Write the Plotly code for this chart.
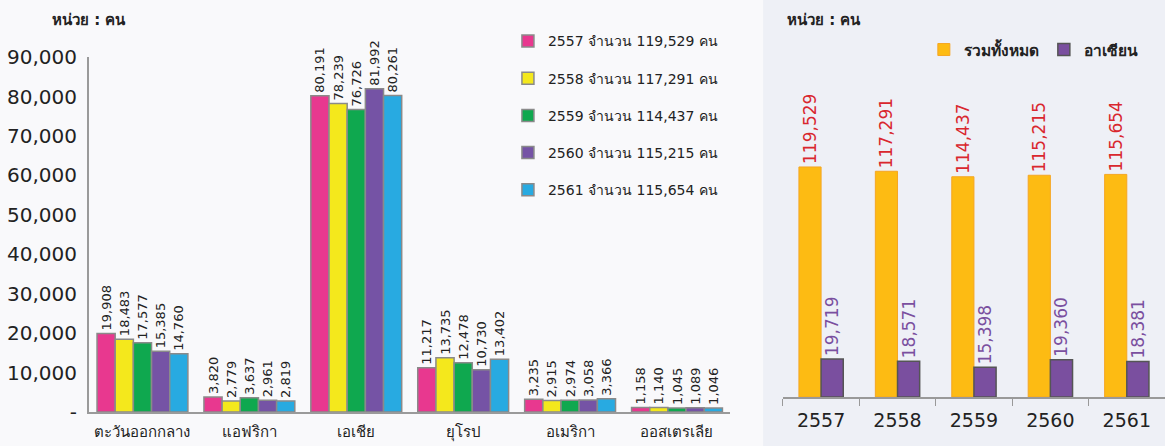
import plotly.graph_objects as go

# left panel: visitors by region per year
regions = ["ตะวันออกกลาง", "แอฟริกา", "เอเชีย", "ยุโรป", "อเมริกา", "ออสเตรเลีย"]
years = ["2557", "2558", "2559", "2560", "2561"]
totals = [119529, 117291, 114437, 115215, 115654]
v2557 = [19908, 3820, 80191, 11217, 3235, 1158]
v2558 = [18483, 2779, 78239, 13735, 2915, 1140]
v2559 = [17577, 3637, 76726, 12478, 2974, 1045]
v2560 = [15385, 2961, 81992, 10730, 3058, 1089]
v2561 = [14760, 2819, 80261, 13402, 3366, 1046]
region_values = [v2557, v2558, v2559, v2560, v2561]
year_colors = ["#e8388f", "#f4e81c", "#0fa84f", "#7553a5", "#28aae1"]

# right panel: total vs ASEAN
asean = [19719, 18571, 15398, 19360, 18381]

left_ticks = [0, 10000, 20000, 30000, 40000, 50000, 60000, 70000, 80000, 90000]
left_ticktext = ["-"] + [f"{v:,}" for v in left_ticks[1:]]

FONT = "DejaVu Sans, Tahoma, Verdana, sans-serif"

fig = go.Figure()

for i, yr in enumerate(years):
    fig.add_trace(go.Bar(
        x=regions, y=region_values[i],
        name=f"{yr} จำนวน {totals[i]:,} คน",
        legendgroup=yr,
        marker=dict(color=year_colors[i], line=dict(color="#8a8a8a", width=1.5)),
        text=[f"{v:,}" for v in region_values[i]],
        textposition="outside", textangle=-90, constraintext="none",
        textfont=dict(size=13, color="#222222", family=FONT),
        cliponaxis=False,
        xaxis="x", yaxis="y",
    ))

fig.add_trace(go.Bar(
    x=years, y=totals, name="<b>รวมทั้งหมด</b>",
    width=0.29, offset=-0.29,
    marker=dict(color="#fdbb13", line=dict(color="#f5a623", width=1)),
    text=[f"{v:,}" for v in totals], textposition="outside", textangle=-90,
    constraintext="none",
    textfont=dict(size=17, color="#d9272e", family=FONT),
    cliponaxis=False, xaxis="x2", yaxis="y2", legend="legend2",
))
fig.add_trace(go.Bar(
    x=years, y=asean, name="<b>อาเซียน</b>",
    width=0.29, offset=0,
    marker=dict(color="#7a4f9f", line=dict(color="#555555", width=1.5)),
    text=[f"{v:,}" for v in asean], textposition="outside", textangle=-90,
    constraintext="none",
    textfont=dict(size=17, color="#7a4f9f", family=FONT),
    cliponaxis=False, xaxis="x2", yaxis="y2", legend="legend2",
))

fig.update_layout(
    width=1165, height=446,
    margin=dict(l=0, r=0, t=0, b=0),
    paper_bgcolor="#f9f9fb", plot_bgcolor="rgba(0,0,0,0)",
    font=dict(family=FONT, color="#222222"),
    barmode="group",
    bargap=0.15, bargroupgap=0,
    showlegend=True,
    xaxis=dict(domain=[0.0764, 0.627], showline=True, linecolor="#9a9a9a", linewidth=2,
               ticks="", tickfont=dict(size=15, color="#222222"), automargin=False,
               ticklabelstandoff=5, showgrid=False),
    yaxis=dict(domain=[0.0762, 0.872], range=[0, 90000], tickvals=left_ticks,
               ticktext=left_ticktext, showline=True, linecolor="#9a9a9a", linewidth=2,
               showgrid=False, zeroline=False, tickfont=dict(size=20, color="#222222"),
               ticks="", ticklabelstandoff=6, automargin=False),
    xaxis2=dict(domain=[0.672, 1.0], anchor="y2", showline=True, linecolor="#999999",
                linewidth=1.5, ticks="outside", tickson="boundaries", ticklen=7,
                tickcolor="#999999", tickfont=dict(size=19, color="#222222"),
                ticklabelstandoff=5, showgrid=False, automargin=False),
    yaxis2=dict(domain=[0.1099, 0.865], range=[0, 175000], anchor="x2", visible=False,
                automargin=False),
    legend=dict(x=0.436, y=0.943, xanchor="left", yanchor="top", tracegroupgap=16,
                font=dict(size=14, color="#222222"), bgcolor="rgba(0,0,0,0)"),
    legend2=dict(orientation="h", x=0.793, y=0.888, xanchor="left", yanchor="middle",
                 font=dict(size=15.5, color="#222222"), bgcolor="rgba(0,0,0,0)"),
    shapes=[dict(type="rect", xref="paper", yref="paper", x0=0.655, x1=1, y0=0, y1=1,
                 fillcolor="#eef0f6", line=dict(width=0), layer="below")],
    annotations=[
        dict(text="<b>หน่วย : คน</b>", xref="paper", yref="paper", x=50 / 1165, y=1 - 20 / 446,
             xanchor="left", yanchor="middle", showarrow=False, font=dict(size=15, color="#222222")),
        dict(text="<b>หน่วย : คน</b>", xref="paper", yref="paper", x=785 / 1165, y=1 - 20 / 446,
             xanchor="left", yanchor="middle", showarrow=False, font=dict(size=15, color="#222222")),
    ],
)

fig.write_html("out.html", config={"displayModeBar": False},
               post_script="document.body.style.margin='0';")
